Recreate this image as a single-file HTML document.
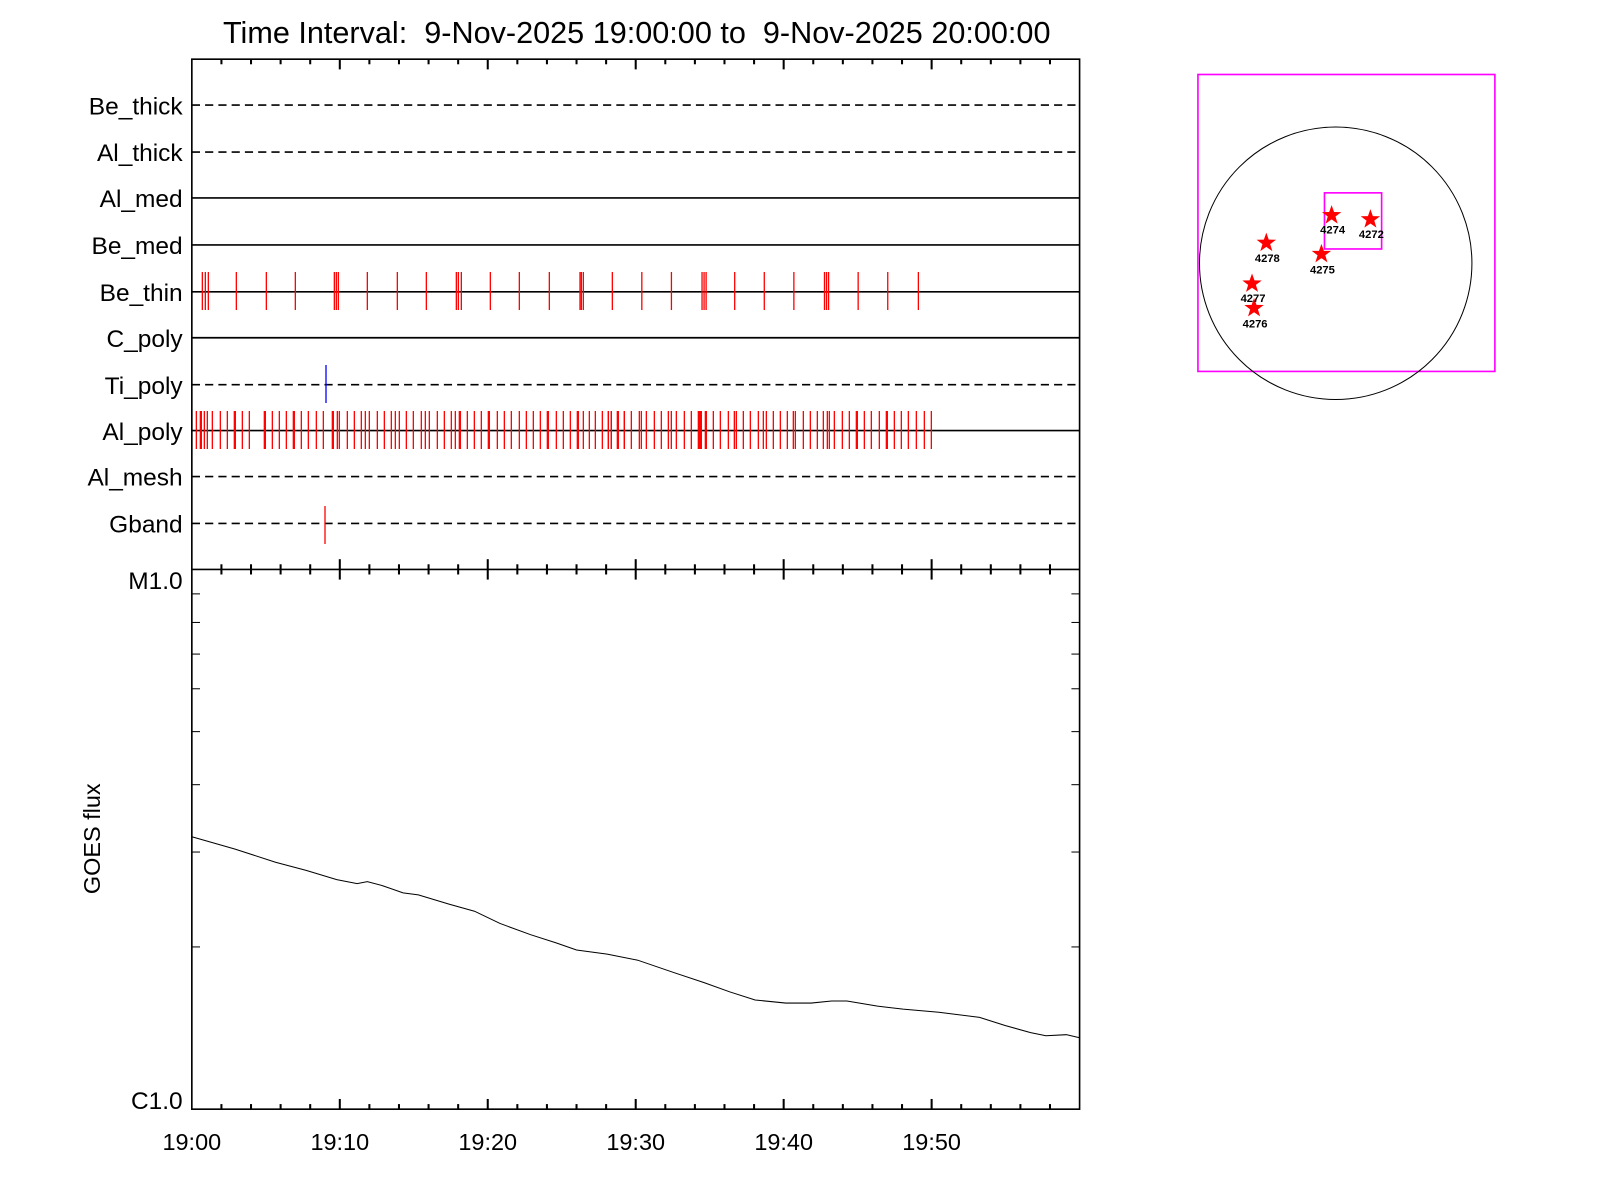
<!DOCTYPE html>
<html><head><meta charset="utf-8"><style>
html,body{margin:0;padding:0;background:#fff;}
svg{display:block;font-family:"Liberation Sans",Arial,sans-serif;}
</style></head><body>
<svg id="s" width="1600" height="1200" viewBox="0 0 1600 1200" xmlns="http://www.w3.org/2000/svg">
<g id="g" transform="scale(1.0204)">
<text x="624" y="42" font-size="30" text-anchor="middle" xml:space="preserve">Time Interval:  9-Nov-2025 19:00:00 to  9-Nov-2025 20:00:00</text>
<rect x="188" y="58" width="870" height="1029" fill="none" stroke="#000" stroke-width="1.6"/>
<line x1="188" y1="558" x2="1058" y2="558" stroke="#000" stroke-width="1.6"/>
<g font-size="24" text-anchor="end">
<text x="179" y="112">Be_thick</text>
<text x="179" y="158">Al_thick</text>
<text x="179" y="203">Al_med</text>
<text x="179" y="249">Be_med</text>
<text x="179" y="295">Be_thin</text>
<text x="179" y="340">C_poly</text>
<text x="179" y="386">Ti_poly</text>
<text x="179" y="431">Al_poly</text>
<text x="179" y="476">Al_mesh</text>
<text x="179" y="522">Gband</text>
<text x="179" y="577">M1.0</text>
<text x="179" y="1087">C1.0</text>
</g>
<g stroke="#000" stroke-width="1.6">
<line x1="188" y1="103" x2="1058" y2="103" stroke-dasharray="8,5"/>
<line x1="188" y1="149" x2="1058" y2="149" stroke-dasharray="8,5"/>
<line x1="188" y1="194" x2="1058" y2="194"/>
<line x1="188" y1="240" x2="1058" y2="240"/>
<line x1="188" y1="286" x2="1058" y2="286"/>
<line x1="188" y1="331" x2="1058" y2="331"/>
<line x1="188" y1="377" x2="1058" y2="377" stroke-dasharray="8,5"/>
<line x1="188" y1="422" x2="1058" y2="422"/>
<line x1="188" y1="467" x2="1058" y2="467" stroke-dasharray="8,5"/>
<line x1="188" y1="513" x2="1058" y2="513" stroke-dasharray="8,5"/>
</g>
<g id="ticks" stroke="#000" stroke-width="2"></g>
<g font-size="23" text-anchor="middle">
<text x="188" y="1127">19:00</text><text x="333" y="1127">19:10</text><text x="478" y="1127">19:20</text>
<text x="623" y="1127">19:30</text><text x="768" y="1127">19:40</text><text x="913" y="1127">19:50</text>
</g>
<text x="0" y="0" font-size="23" text-anchor="middle" transform="translate(98,822) rotate(-90)">GOES flux</text>
<polyline fill="none" stroke="#000" stroke-width="1" points="188,820 230,832 270,845 300,853 330,862 350,866 360,864 375,868 395,875 410,877 440,886 465,893 490,905 520,916 545,924 565,931 595,935 625,941 660,953 690,963 715,972 740,980 770,983 795,983 815,981 830,981 860,986 885,989 920,992 960,997 985,1005 1010,1012 1025,1015 1045,1014 1058,1017"/>
<rect x="1174" y="73" width="291" height="291" fill="none" stroke="#f0f" stroke-width="1.6"/>
<circle cx="1309" cy="258" r="133.5" fill="none" stroke="#000" stroke-width="1"/>
<rect x="1298" y="189" width="56" height="55" fill="none" stroke="#f0f" stroke-width="1.6"/>
<g id="stars" fill="#f00"></g>
<g font-size="11" font-weight="bold" text-anchor="middle">
<text x="1306" y="229">4274</text><text x="1344" y="233">4272</text><text x="1242" y="257">4278</text>
<text x="1296" y="268">4275</text><text x="1228" y="296">4277</text><text x="1230" y="321">4276</text>
</g>
</g>
<g id="spk" stroke-width="1.3"></g>
</svg>
<script>
var NS="http://www.w3.org/2000/svg";
function L(p,x1,y1,x2,y2,c,w){var l=document.createElementNS(NS,"line");l.setAttribute("x1",x1);l.setAttribute("y1",y1);l.setAttribute("x2",x2);l.setAttribute("y2",y2);if(c)l.setAttribute("stroke",c);if(w)l.setAttribute("stroke-width",w);p.appendChild(l);}
var t=document.getElementById("ticks");
for(var i=1;i<30;i++){var x=188+i*29,maj=i%5==0,h=maj?10:5;
L(t,x,58,x,58+h);L(t,x,558-h,x,558+h);L(t,x,1087,x,1087-h);}
var ys=[928,835,769,717,675,641,610,582];
ys.forEach(function(y){L(t,188,y,196,y,null,1);L(t,1058,y,1050,y,null,1);});
var st=document.getElementById("stars");
[[1305,211],[1343,215],[1241,238],[1295,249],[1227,278],[1229,302]].forEach(function(c){
var pts="",r=10,r2=4;for(var k=0;k<10;k++){var a=-Math.PI/2+k*Math.PI/5,rr=k%2?r2:r;pts+=(c[0]+rr*Math.cos(a)).toFixed(1)+","+(c[1]+rr*Math.sin(a)).toFixed(1)+" ";}
var p=document.createElementNS(NS,"polygon");p.setAttribute("points",pts);st.appendChild(p);});
var sp=document.getElementById("spk");
var be=[67,76,85,169,259,346,463,469,475,562,652,739,829,835,844,931,1018,1108,1200,1204,1210,1297].map(function(p){return 180+p/3;});
[629,658,688,690,692,720,749,778,808,810,812,841,870,900].forEach(function(d){be.push(d*1.0204);});
be.forEach(function(x){L(sp,x,272,x,310,"#f00");});
var al=[49,61,64,73,82,97,121,142,163,166,187,208,253,256,277,298,319,340,343,364,385,409,430,457,460,472,478,502,523,544,556,568,592,613,634,646,658,679,700,724,736,748,772,793,814,826,838,841,862,883,904,925,928,952,973,994,1018,1039,1060,1081,1102,1105,1129,1150,1171,1192,1195,1210,1228,1246,1267,1285,1294,1315,1333].map(function(p){return 180+p/3;});
[25,34,52,73,94,118,124,139,163,184,205,214,229,253,274,295,298,301,304,316,319,340,361,385,403,409,430,451,475,490,499,520,541,562,580,586,610,631,652,670,682,688,703,727,748,769,772,793,814,838,859,862,883,904,925,949,973,994].forEach(function(p){al.push(600+p/3);});
al.forEach(function(x){L(sp,x,411,x,449,"#f00");});
L(sp,326,365,326,403,"#00f");
L(sp,325,506,325,544,"#f00");
</script>
</body></html>
